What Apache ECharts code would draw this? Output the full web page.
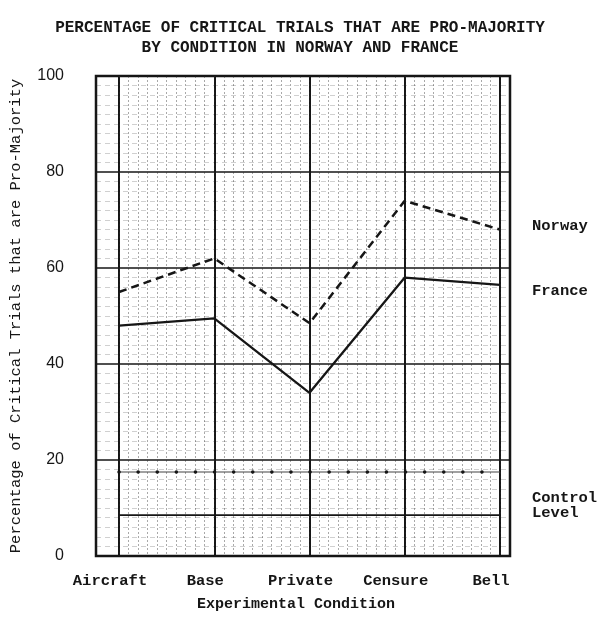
<!DOCTYPE html>
<html>
<head>
<meta charset="utf-8">
<script src="https://cdn.jsdelivr.net/npm/echarts@6/dist/echarts.min.js"></script>
<style>
  html, body { margin: 0; padding: 0; background: #fff; }
  #chart { width: 600px; height: 622px; }
</style>
</head>
<body>
<div id="chart"></div>
<script>
// Conditions and percentages of pro-majority critical trials
var conditions = ['Aircraft', 'Base', 'Private', 'Censure', 'Bell'];
var norway = [55, 62, 48.5, 74, 68];
var france = [48, 49.5, 34, 58, 56.5];
var controlNorway = [17.5, 17.5, 17.5, 17.5, 17.5];
var controlFrance = [8.5, 8.5, 8.5, 8.5, 8.5];
var yTicks = { min: 0, max: 100, step: 20 };

var ink = '#161616';
var mono = '"Liberation Mono", "DejaVu Sans Mono", monospace';
var titleStyle = {
  fontFamily: mono, fontWeight: 'bold', fontSize: 16, color: ink
};

var chart = echarts.init(document.getElementById('chart'), null, { renderer: 'canvas' });

chart.setOption({
  backgroundColor: '#ffffff',
  animation: false,
  title: [
    { text: 'PERCENTAGE OF CRITICAL TRIALS THAT ARE PRO-MAJORITY',
      left: 'center', top: 15, textStyle: titleStyle },
    { text: 'BY CONDITION IN NORWAY AND FRANCE',
      left: 'center', top: 35, textStyle: titleStyle }
  ],
  grid: [
    // outer frame of the graph paper
    { left: 95, right: 90, top: 76, bottom: 66, show: true,
      borderColor: ink, borderWidth: 2.5, backgroundColor: 'transparent' },
    // plotting area spanning the conditions
    { left: 119, right: 100, top: 76, bottom: 66 }
  ],
  xAxis: [
    { gridIndex: 0, type: 'value', min: 0, max: 1, show: false },
    {
      gridIndex: 1, type: 'category', data: conditions, boundaryGap: false,
      axisLine: { show: false }, axisTick: { show: false },
      splitLine: { show: true, lineStyle: { color: ink, width: 2 } },
      axisLabel: {
        interval: 0, hideOverlap: false,
        fontFamily: mono, fontWeight: 'bold', fontSize: 15.5, color: ink,
        margin: 17, padding: [0, 18, 0, 0]
      },
      name: 'Experimental Condition', nameLocation: 'middle', nameGap: 41,
      nameTextStyle: {
        fontFamily: mono, fontWeight: 'bold', fontSize: 15, color: ink,
        padding: [0, 27, 0, 0]
      }
    },
    // fine vertical rulings of the graph paper
    {
      gridIndex: 1, type: 'value', min: 0, max: 40, interval: 1,
      axisLine: { show: false }, axisTick: { show: false }, axisLabel: { show: false },
      splitLine: { show: true, lineStyle: { color: 'rgba(40,40,40,0.4)', width: 1, type: [2, 2] } }
    }
  ],
  yAxis: [
    {
      gridIndex: 0, type: 'value', min: yTicks.min, max: yTicks.max, interval: yTicks.step,
      axisLine: { show: false }, axisTick: { show: false },
      axisLabel: {
        fontFamily: '"Liberation Sans", Arial, sans-serif', fontSize: 16,
        color: ink, margin: 32
      },
      splitLine: { show: true, lineStyle: { color: ink, width: 1.6 } },
      minorTick: { show: false, splitNumber: 10 },
      minorSplitLine: { show: true, lineStyle: { color: 'rgba(40,40,40,0.22)', width: 1, type: [5, 4] } },
      name: 'Percentage of Critical Trials that are Pro-Majority',
      nameLocation: 'middle', nameRotate: 90, nameGap: 72,
      nameTextStyle: { fontFamily: mono, fontSize: 15.5, color: ink }
    },
    { gridIndex: 1, type: 'value', min: yTicks.min, max: yTicks.max, show: false }
  ],
  series: [
    {
      name: 'Norway', type: 'line', xAxisIndex: 1, yAxisIndex: 1,
      data: norway, symbol: 'none', z: 5,
      lineStyle: { color: ink, width: 2.5, type: [8, 5] },
      endLabel: {
        show: true, formatter: 'Norway', distance: 32, offset: [0, -4],
        fontFamily: mono, fontWeight: 'bold', fontSize: 15.5, color: ink
      }
    },
    {
      name: 'France', type: 'line', xAxisIndex: 1, yAxisIndex: 1,
      data: france, symbol: 'none', z: 5,
      lineStyle: { color: ink, width: 2.3 },
      endLabel: {
        show: true, formatter: 'France', distance: 32, offset: [0, 6],
        fontFamily: mono, fontWeight: 'bold', fontSize: 15.5, color: ink
      }
    },
    {
      name: 'Control Norway', type: 'line', xAxisIndex: 1, yAxisIndex: 1,
      data: controlNorway, symbol: 'none', z: 4,
      lineStyle: { color: '#444', width: 1.2 }
    },
    {
      name: 'Control Norway dots', type: 'line', xAxisIndex: 1, yAxisIndex: 1,
      data: controlNorway, symbol: 'none', z: 4,
      lineStyle: { color: ink, width: 3.5, type: [0.1, 19], cap: 'round' }
    },
    {
      name: 'Control France', type: 'line', xAxisIndex: 1, yAxisIndex: 1,
      data: controlFrance, symbol: 'none', z: 4,
      lineStyle: { color: ink, width: 1.8 },
      endLabel: {
        show: true, formatter: 'Control\nLevel', distance: 32, offset: [0, -10],
        fontFamily: mono, fontWeight: 'bold', fontSize: 15.5, color: ink, lineHeight: 15
      }
    }
  ]
});
</script>
</body>
</html>
